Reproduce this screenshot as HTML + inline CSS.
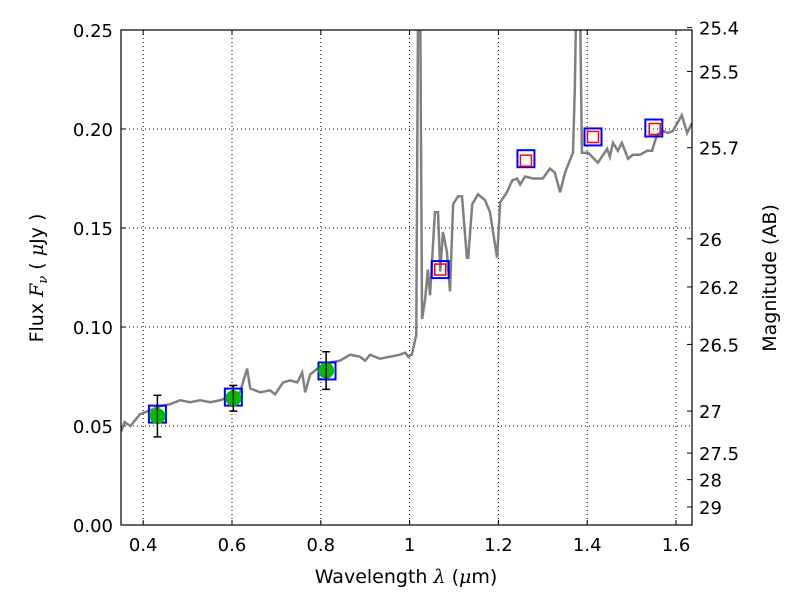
<!DOCTYPE html>
<html><head><meta charset="utf-8"><style>
body{margin:0;background:#fff}
svg{font-family:"DejaVu Sans","Liberation Sans",sans-serif}
</style></head><body>
<svg id="c" width="800" height="600" xmlns="http://www.w3.org/2000/svg"></svg>
<script>
const specWl=[0.35,0.358,0.371,0.382,0.393,0.405,0.416,0.438,0.461,0.483,0.506,0.528,0.551,0.573,0.596,0.618,0.634,0.641,0.663,0.686,0.697,0.715,0.731,0.747,0.758,0.765,0.776,0.798,0.821,0.843,0.866,0.888,0.9,0.911,0.933,0.956,0.978,0.99,0.997,1.005,1.015,1.019,1.024,1.028,1.035,1.041,1.046,1.057,1.064,1.069,1.075,1.084,1.091,1.098,1.109,1.118,1.129,1.132,1.141,1.154,1.17,1.181,1.197,1.204,1.219,1.231,1.242,1.249,1.26,1.278,1.3,1.316,1.327,1.339,1.35,1.366,1.368,1.372,1.375,1.384,1.388,1.402,1.424,1.445,1.451,1.458,1.469,1.478,1.492,1.503,1.519,1.535,1.546,1.557,1.571,1.582,1.593,1.613,1.625,1.636];
const specFlux=[0.047,0.052,0.05,0.053,0.056,0.057,0.058,0.06,0.061,0.063,0.062,0.063,0.062,0.063,0.065,0.067,0.079,0.069,0.067,0.068,0.066,0.072,0.073,0.072,0.077,0.067,0.076,0.08,0.082,0.083,0.086,0.085,0.083,0.086,0.084,0.085,0.086,0.087,0.085,0.086,0.096,0.26,0.26,0.104,0.114,0.129,0.116,0.158,0.158,0.128,0.148,0.138,0.118,0.162,0.166,0.166,0.135,0.135,0.162,0.167,0.164,0.158,0.135,0.163,0.168,0.174,0.175,0.172,0.176,0.175,0.175,0.18,0.178,0.168,0.178,0.187,0.188,0.22,0.26,0.26,0.188,0.188,0.183,0.19,0.186,0.193,0.189,0.193,0.185,0.187,0.187,0.189,0.189,0.197,0.199,0.198,0.199,0.207,0.198,0.203];
const obsWl=[0.432,0.603,0.812];
const obsFlux=[0.055,0.064,0.078];
const obsErr=[0.0105,0.0065,0.0095];
const modelWl=[0.432,0.603,0.814,1.069,1.262,1.413,1.55];
const modelFlux=[0.056,0.0646,0.0778,0.129,0.185,0.196,0.2005];
const hstWl=[1.069,1.262,1.413,1.552];
const hstFlux=[0.129,0.184,0.196,0.2];
const xTicks=[0.4,0.6,0.8,1.0,1.2,1.4,1.6];
const xTickLabels=["0.4","0.6","0.8","1","1.2","1.4","1.6"];
const yTicks=[0,0.05,0.1,0.15,0.2,0.25];
const yTickLabels=["0.00","0.05","0.10","0.15","0.20","0.25"];
const magTicks=[25.4,25.5,25.7,26,26.2,26.5,27,27.5,28,29];

const L=121,R=692,T=30,B=525,X0=0.35,X1=1.636,Y0=0,Y1=0.25;
const sx=v=>L+(v-X0)/(X1-X0)*(R-L);
const sy=v=>B-(v-Y0)/(Y1-Y0)*(B-T);
const svg=document.getElementById('c');
const NS='http://www.w3.org/2000/svg';
function mk(tag,attrs,parent){const e=document.createElementNS(NS,tag);for(const k in attrs)e.setAttribute(k,attrs[k]);(parent||svg).appendChild(e);return e;}

const defs=mk('defs',{});
const cp=mk('clipPath',{id:'clip'},defs);mk('rect',{x:L,y:T,width:R-L,height:B-T},cp);

xTicks.forEach((t,i)=>{
 const g=mk('line',{x1:sx(t),x2:sx(t),y1:T,y2:B,stroke:'#000','stroke-width':1,'stroke-dasharray':'1,3'});
 
 
 mk('line',{x1:sx(t),x2:sx(t),y1:B,y2:B-5,stroke:'#000'});
 mk('line',{x1:sx(t),x2:sx(t),y1:T,y2:T+5,stroke:'#000'});
 const tx=mk('text',{x:sx(t),y:B+26,'font-size':18,'text-anchor':'middle'});
 tx.textContent=xTickLabels[i];
 
 
});
yTicks.forEach((t,i)=>{
 const g=mk('line',{x1:L,x2:R,y1:sy(t),y2:sy(t),stroke:'#000','stroke-width':1,'stroke-dasharray':'1,3'});
 
 
 mk('line',{x1:L,x2:L+5,y1:sy(t),y2:sy(t),stroke:'#000'});
 const tx=mk('text',{x:L-8,y:sy(t)+7,'font-size':18,'text-anchor':'end'});
 tx.textContent=yTickLabels[i];
 
 
});
magTicks.forEach(m=>{
 const f=Math.pow(10,(23.9-m)/2.5);
 const y=sy(f);
 mk('line',{x1:R,x2:R-5,y1:y,y2:y,stroke:'#000'});
 const tx=mk('text',{x:R+7,y:y+7,'font-size':18});
 tx.textContent=String(m);
 
 
});

const pl=mk('polyline',{points:specWl.map((w,i)=>sx(w)+','+sy(specFlux[i])).join(' '),fill:'none',stroke:'#808080','stroke-width':2.5,'clip-path':'url(#clip)'});



modelWl.forEach((w,i)=>{
 const r=mk('rect',{x:sx(w)-8.5,y:sy(modelFlux[i])-8.5,width:17,height:17,fill:'none',stroke:'#0000ff','stroke-width':2});
 
 
});
hstWl.forEach((w,i)=>{
 const r=mk('rect',{x:sx(w)-5.5,y:sy(hstFlux[i])-5.5,width:11,height:11,fill:'none',stroke:'#ff0000','stroke-width':1.5});
 
 
});
obsWl.forEach((w,i)=>{
 const c=mk('circle',{cx:sx(w),cy:sy(obsFlux[i]),r:8,fill:'#00bb00'});
 
 
 const x=sx(w),y1=sy(obsFlux[i]+obsErr[i]),y2=sy(obsFlux[i]-obsErr[i]);
 const e=mk('line',{x1:x,x2:x,y1:y1,y2:y2,stroke:'#000','stroke-width':1.5});
 
 
 mk('line',{x1:x-4,x2:x+4,y1:y1,y2:y1,stroke:'#000','stroke-width':1.5});
 mk('line',{x1:x-4,x2:x+4,y1:y2,y2:y2,stroke:'#000','stroke-width':1.5});
});

const fr=mk('rect',{x:L,y:T,width:R-L,height:B-T,fill:'none',stroke:'#000','stroke-width':1.2});


</script>
<svg width="800" height="600" style="position:absolute;left:0;top:0" xmlns="http://www.w3.org/2000/svg" font-family="DejaVu Sans, Liberation Sans, sans-serif">
<text x="406" y="583" font-size="19" text-anchor="middle">Wavelength  <tspan font-family="DejaVu Serif, serif" font-style="italic">λ</tspan> (<tspan font-family="DejaVu Serif, serif" font-style="italic">μ</tspan>m)</text>
<text transform="translate(43,278) rotate(-90)" font-size="19" text-anchor="middle">Flux  <tspan font-family="DejaVu Serif, serif" font-style="italic">F</tspan><tspan font-family="DejaVu Serif, serif" font-style="italic" font-size="13" dy="4">ν</tspan><tspan dy="-4">  ( </tspan><tspan font-family="DejaVu Serif, serif" font-style="italic">μ</tspan>Jy )</text>
<text transform="translate(776,278) rotate(-90)" font-size="19" text-anchor="middle">Magnitude (AB)</text>
</svg>
</body></html>
